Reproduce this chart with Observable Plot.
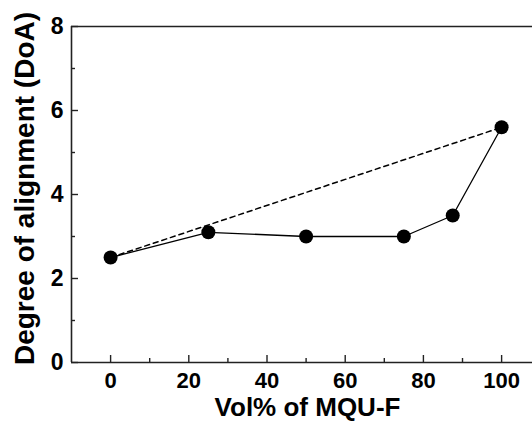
<!DOCTYPE html>
<html><head><meta charset="utf-8">
<script src="https://cdn.jsdelivr.net/npm/d3@7"></script>
<script src="https://cdn.jsdelivr.net/npm/@observablehq/plot@0.6"></script>
<style>
html,body{margin:0;padding:0;background:#fff;overflow:hidden;}
</style>
</head><body>
<div id="chart"></div>
<script>
const volPct = [0, 25, 50, 75, 87.5, 100];
const doa = [2.5, 3.1, 3.0, 3.0, 3.5, 5.6];
const dashedX = [0, 100];
const dashedY = [2.5, 5.6];
const xMajorTicks = [0, 20, 40, 60, 80, 100];
const xMinorTicks = [10, 30, 50, 70, 90];
const yMajorTicks = [0, 2, 4, 6, 8];
const yMinorTicks = [1, 3, 5, 7];
const xTitle = "Vol% of MQU-F";
const yTitle = "Degree of alignment (DoA)";

const points = volPct.map((x, i) => ({x, y: doa[i]}));
const dashed = dashedX.map((x, i) => ({x, y: dashedY[i]}));

const font = "Liberation Sans, Arial, sans-serif";
const chart = Plot.plot({
  width: 532,
  height: 425,
  marginLeft: 71,
  marginTop: 26,
  marginBottom: 63,
  marginRight: 0,
  style: {fontFamily: font, fontWeight: "bold", color: "#000", background: "#fff", overflow: "visible"},
  x: {domain: [-10, 107.9]},
  y: {domain: [0, 8]},
  marks: [
    Plot.ruleY([8], {stroke: "#222", strokeWidth: 1.6}),
    Plot.ruleY([0], {stroke: "#222", strokeWidth: 1.6}),
    Plot.ruleX([-10], {stroke: "#222", strokeWidth: 1.6}),
    Plot.axisX({ticks: xMajorTicks, tickSize: -7, text: null, label: null, stroke: "#222", strokeWidth: 1.4}),
    Plot.axisX({ticks: xMinorTicks, tickSize: -4, text: null, label: null, stroke: "#222", strokeWidth: 1.4}),
    Plot.axisX({ticks: xMajorTicks, tickSize: 0, tickPadding: 10, label: null, fill: "#000", fontSize: 22, fontWeight: "bold"}),
    Plot.axisY({ticks: yMajorTicks, tickSize: -7, text: null, label: null, stroke: "#222", strokeWidth: 1.4}),
    Plot.axisY({ticks: yMinorTicks, tickSize: -4, text: null, label: null, stroke: "#222", strokeWidth: 1.4}),
    Plot.axisY({ticks: yMajorTicks, tickSize: 0, tickPadding: 8, label: null, fill: "#000", fontSize: 23, fontWeight: "bold"}),
    Plot.line(dashed, {x: "x", y: "y", stroke: "#000", strokeWidth: 1.5, strokeDasharray: "5,4"}),
    Plot.line(points, {x: "x", y: "y", stroke: "#000", strokeWidth: 1.3}),
    Plot.dot(points, {x: "x", y: "y", r: 7, fill: "#000", stroke: "none"}),
    Plot.text([xTitle], {frameAnchor: "bottom", lineAnchor: "top", textAnchor: "middle", dx: 5.5, dy: 35, fontSize: 26, fontWeight: "bold", fill: "#000"}),
    Plot.text([yTitle], {frameAnchor: "left", rotate: -90, textAnchor: "middle", lineAnchor: "middle", dx: -46, dy: -6, fontSize: 28, fontWeight: "bold", fill: "#000"})
  ]
});
document.getElementById("chart").appendChild(chart);
</script>
</body></html>
